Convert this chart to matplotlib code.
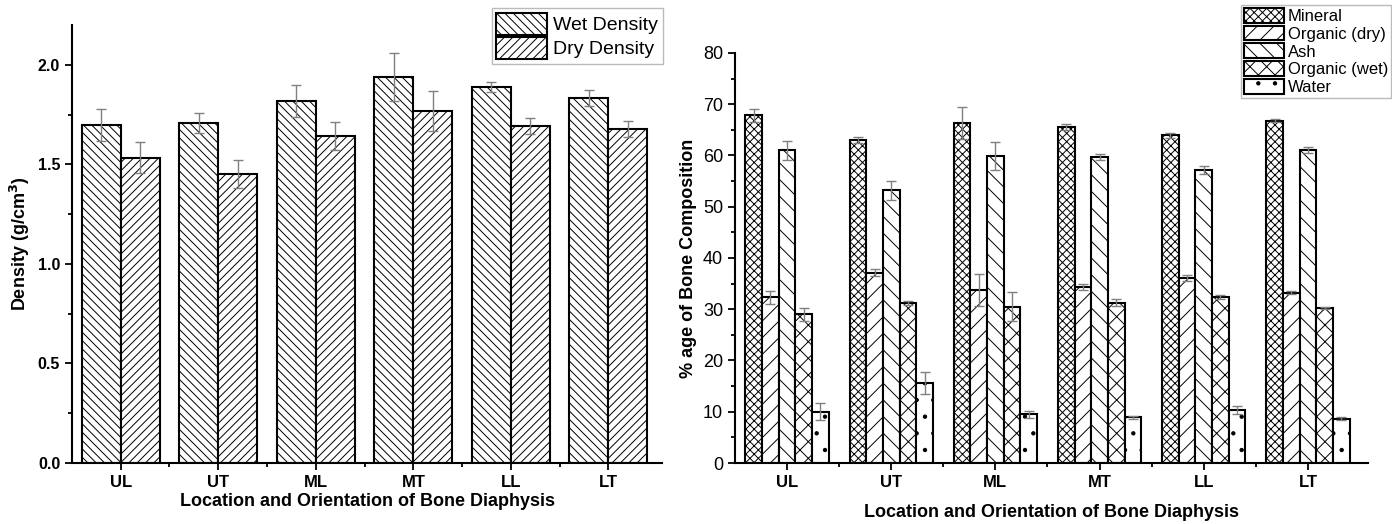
import matplotlib
matplotlib.use("Agg")
import matplotlib.pyplot as plt
import numpy as np

plt.rcParams["font.family"] = ["Liberation Sans", "DejaVu Sans"]
plt.rcParams["hatch.linewidth"] = 0.7

sites = ["UL", "UT", "ML", "MT", "LL", "LT"]

# density (g/cm3)
wet = [1.70, 1.71, 1.82, 1.94, 1.89, 1.835]
wet_err = [0.08, 0.05, 0.08, 0.12, 0.025, 0.04]
dry = [1.535, 1.45, 1.645, 1.77, 1.695, 1.68]
dry_err = [0.08, 0.07, 0.07, 0.10, 0.04, 0.04]

# composition (%)
mineral = [67.8, 63.0, 66.3, 65.6, 63.9, 66.8]
mineral_err = [1.2, 0.6, 3.1, 0.6, 0.5, 0.3]
org_dry = [32.3, 37.1, 33.7, 34.4, 36.1, 33.2]
org_dry_err = [1.2, 0.7, 3.1, 0.6, 0.5, 0.3]
ash = [61.0, 53.2, 59.9, 59.7, 57.2, 61.0]
ash_err = [1.9, 1.8, 2.8, 0.6, 0.8, 0.6]
org_wet = [29.0, 31.2, 30.5, 31.3, 32.3, 30.3]
org_wet_err = [1.2, 0.4, 2.8, 0.6, 0.4, 0.2]
water = [10.0, 15.6, 9.5, 8.9, 10.4, 8.6]
water_err = [1.7, 2.1, 0.7, 0.3, 0.8, 0.3]

x = np.arange(len(sites))
err_kw = dict(ecolor="#808080", elinewidth=1.0, capsize=3.5, capthick=1.0)

fig = plt.figure(figsize=(13.92, 5.24), dpi=100)

# ---- left: density
ax1 = fig.add_axes([0.0517, 0.1164, 0.4239, 0.8356])
w = 0.4
ax1.bar(x - w / 2, wet, w, yerr=wet_err, color="white", edgecolor="black",
        linewidth=1.5, hatch="\\\\\\\\", label="Wet Density", error_kw=err_kw)
ax1.bar(x + w / 2, dry, w, yerr=dry_err, color="white", edgecolor="black",
        linewidth=1.5, hatch="////", label="Dry Density", error_kw=err_kw)
ax1.set_xlim(-0.5, 5.55)
ax1.set_ylim(0, 2.2)
ax1.set_yticks([0.0, 0.5, 1.0, 1.5, 2.0])
ax1.set_yticks(np.arange(0.25, 2.2, 0.5), minor=True)
ax1.set_yticklabels(["0.0", "0.5", "1.0", "1.5", "2.0"], fontweight="bold", fontsize=11.5)
ax1.set_xticks(x)
ax1.set_xticks(x[:-1] + 0.5, minor=True)
ax1.set_xticklabels(sites, fontweight="bold", fontsize=12)
ax1.set_xlabel("Location and Orientation of Bone Diaphysis", fontweight="bold", fontsize=13, labelpad=2)
ax1.set_ylabel("Density (g/cm$^\\mathbf{3}$)", fontweight="bold", fontsize=13)
leg1 = ax1.legend(loc="upper right", bbox_to_anchor=(0.476, 0.985), bbox_transform=fig.transFigure,
                  fontsize=14, handlelength=2.6, handleheight=1.35, labelspacing=0.12,
                  handletextpad=0.3, borderpad=0.25, borderaxespad=0, fancybox=False,
                  edgecolor="#bbbbbb", framealpha=1)
leg1.get_frame().set_linewidth(1.0)

# ---- right: composition
ax2 = fig.add_axes([0.528, 0.1164, 0.455, 0.7826])
w2 = 0.16
series = [(mineral, mineral_err, "xxxx", "Mineral"),
          (org_dry, org_dry_err, "//", "Organic (dry)"),
          (ash, ash_err, "\\\\", "Ash"),
          (org_wet, org_wet_err, "xx", "Organic (wet)"),
          (water, water_err, ".", "Water")]
for i, (vals, errs, h, lab) in enumerate(series):
    ax2.bar(x + (i - 2) * w2, vals, w2, yerr=errs, color="white", edgecolor="black",
            linewidth=1.5, hatch=h, label=lab, error_kw=err_kw)
ax2.set_xlim(-0.5, 5.58)
ax2.set_ylim(0, 80)
ax2.set_yticks(np.arange(0, 81, 10))
ax2.set_yticks(np.arange(5, 80, 10), minor=True)
ax2.tick_params(axis="y", labelsize=13)
ax2.set_xticks(x)
ax2.set_xticks(x[:-1] + 0.5, minor=True)
ax2.set_xticklabels(sites, fontweight="bold", fontsize=12)
ax2.set_xlabel("Location and Orientation of Bone Diaphysis", fontweight="bold", fontsize=13, labelpad=10)
ax2.set_ylabel("% age of Bone Composition", fontweight="bold", fontsize=13)
leg2 = ax2.legend(loc="upper right", bbox_to_anchor=(0.999, 0.99), bbox_transform=fig.transFigure,
                  fontsize=12, handlelength=2.4, handleheight=1.0, labelspacing=0.1,
                  handletextpad=0.25, borderpad=0.15, borderaxespad=0, fancybox=False,
                  edgecolor="#bbbbbb", framealpha=1)
leg2.get_frame().set_linewidth(1.0)

for ax in (ax1, ax2):
    for s in ("top", "right"):
        ax.spines[s].set_visible(False)
    for s in ("left", "bottom"):
        ax.spines[s].set_linewidth(1.5)
    ax.tick_params(which="major", direction="out", length=5, width=1.3)
    ax.tick_params(which="minor", direction="out", length=3, width=1.3)

fig.savefig("out.png", dpi=100)
